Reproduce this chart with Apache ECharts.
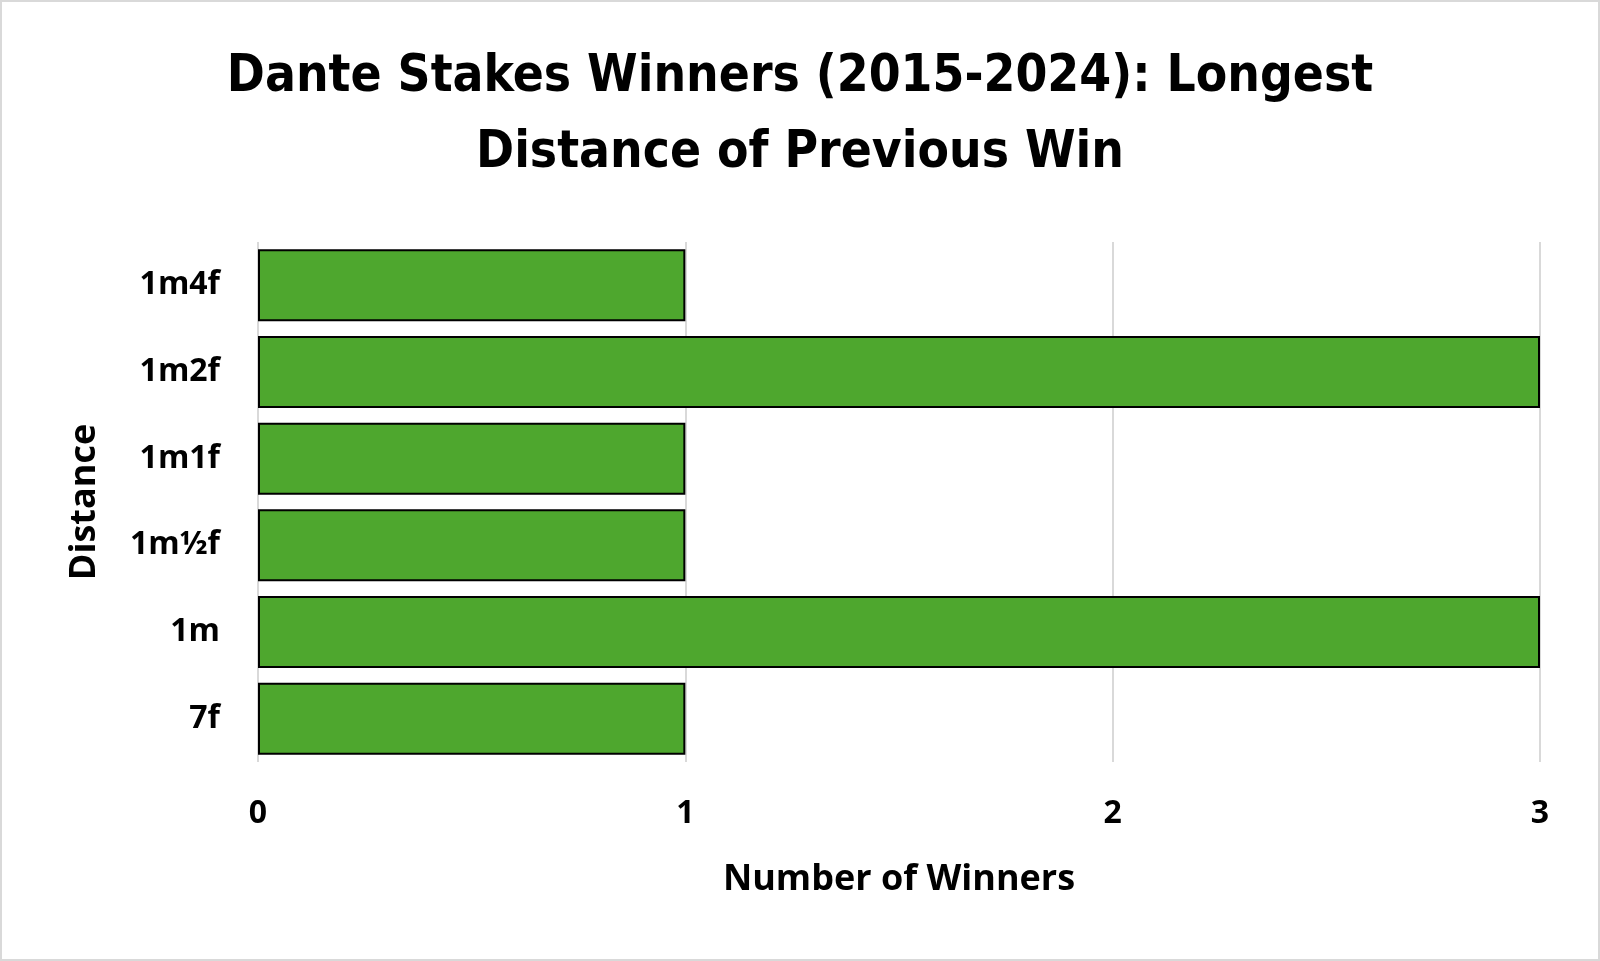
<!DOCTYPE html>
<html>
<head>
<meta charset="utf-8">
<script src="https://cdn.jsdelivr.net/npm/echarts@6/dist/echarts.min.js"></script>
<style>
html,body{margin:0;padding:0;background:#fff}
#chart{width:1600px;height:961px;box-sizing:border-box;border:2px solid #d9d9d9}
</style>
</head>
<body>
<div id="chart"></div>
<script>
// categories top->bottom in picture; ECharts category y axis runs bottom->top
const distances = ["7f","1m","1m½f","1m1f","1m2f","1m4f"];
const winners   = [1, 3, 1, 1, 3, 1];
const xTicks    = [0, 1, 2, 3];

const titleText = "Dante Stakes Winners (2015-2024): Longest\nDistance of Previous Win";
const labelFont = "'Open Sans', 'Noto Sans', sans-serif";

const chart = echarts.init(document.getElementById("chart"));
chart.setOption({
  animation:false,
  title:{
    text:titleText,
    left:"center", top:33,
    textStyle:{
      fontFamily:"'DejaVu Sans Condensed','DejaVu Sans',sans-serif",
      fontWeight:"bold", fontSize:51, lineHeight:76, color:"#000"
    }
  },
  grid:{left:256, right:58, top:240, bottom:197},
  xAxis:{
    type:"value", min:xTicks[0], max:xTicks[xTicks.length-1], interval:1,
    name:"Number of Winners", nameLocation:"middle", nameGap:100,
    nameTextStyle:{fontFamily:labelFont, fontWeight:"bold", fontSize:36, color:"#000"},
    axisLine:{show:false}, axisTick:{show:false},
    axisLabel:{fontFamily:labelFont, fontWeight:"bold", fontSize:32, color:"#000", margin:36},
    splitLine:{show:true, lineStyle:{color:"#d9d9d9", width:2}}
  },
  yAxis:{
    type:"category", data:distances,
    name:"Distance", nameLocation:"middle", nameGap:155, nameRotate:90,
    nameTextStyle:{fontFamily:labelFont, fontWeight:"bold", fontSize:36, color:"#000"},
    axisLine:{show:false}, axisTick:{show:false},
    axisLabel:{fontFamily:labelFont, fontWeight:"bold", fontSize:32, color:"#000", margin:38}
  },
  series:[{
    type:"bar", data:winners, barCategoryGap:"17%",
    itemStyle:{color:"#4ea72e", borderColor:"#000", borderWidth:2}
  }]
});
</script>
</body>
</html>
